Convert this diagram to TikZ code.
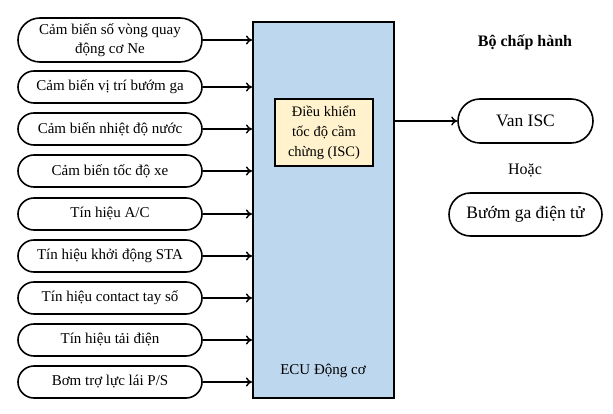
\documentclass[tikz,border=0pt]{standalone}
\usepackage{fontspec}
\setmainfont{Liberation Serif}
\usetikzlibrary{shapes.misc,arrows.meta}
\definecolor{ecublue}{HTML}{BDD7EE}
\definecolor{iscyellow}{HTML}{FFF2CC}
\tikzset{
  sensor/.style={rounded rectangle, draw, line width=1.6pt, minimum width=184pt, minimum height=32pt, inner sep=0pt, align=center, font=\fontsize{15}{19}\selectfont},
  actuator/.style={rounded rectangle, draw, line width=1.6pt, minimum height=44pt, inner sep=0pt, font=\fontsize{17.5}{20}\selectfont},
  signal/.style={-{To[length=6pt,width=9pt]}, line width=1.4pt}
}
\begin{document}
\begin{tikzpicture}[x=1pt,y=-1pt]
  \useasboundingbox (0,0) rectangle (613,414);
  % ECU and controller block
  \node[draw, line width=2pt, fill=ecublue, minimum width=141pt, minimum height=376pt, inner sep=0pt] (ECU) at (323.5,210){};
  \node[draw, line width=1.6pt, fill=iscyellow, minimum width=98pt, minimum height=67pt, inner sep=0pt, align=center, font=\fontsize{14.5}{20}\selectfont] (ISC) at (324,132.5){Điều khiển\\tốc độ cầm\\chừng (ISC)};
  \node[font=\fontsize{15}{18}\selectfont] (ECUlabel) at (323,371){ECU Động cơ};
  % Sensors and signals
  \node[sensor, minimum height=44pt] (s1) at (110,40){Cảm biến số vòng quay\\động cơ Ne};
  \node[sensor] (s2) at (110,87){Cảm biến vị trí bướm ga};
  \node[sensor] (s3) at (110,129){Cảm biến nhiệt độ nước};
  \node[sensor] (s4) at (110,171){Cảm biến tốc độ xe};
  \node[sensor] (s5) at (110,214){Tín hiệu A/C};
  \node[sensor] (s6) at (110,256){Tín hiệu khởi động STA};
  \node[sensor] (s7) at (110,298){Tín hiệu contact tay số};
  \node[sensor] (s8) at (110,340){Tín hiệu tải điện};
  \node[sensor] (s9) at (110,382){Bơm trợ lực lái P/S};
  \foreach \s in {s1,s2,s3,s4,s5,s6,s7,s8,s9}
    \draw[signal] (\s.east) -- (\s.east -| ECU.west);
  % Actuators
  \node[font=\bfseries\fontsize{16}{19}\selectfont] (title) at (525,42){Bộ chấp hành};
  \node[actuator, minimum width=135pt] (van) at (525.5,121){Van ISC};
  \node[font=\fontsize{16}{19}\selectfont] (or) at (525,170){Hoặc};
  \node[actuator, minimum width=153pt, minimum height=43pt] (etc) at (525.5,214.5){Bướm ga điện tử};
  \draw[signal] (van.west -| ECU.east) -- (van.west);
\end{tikzpicture}
\end{document}
